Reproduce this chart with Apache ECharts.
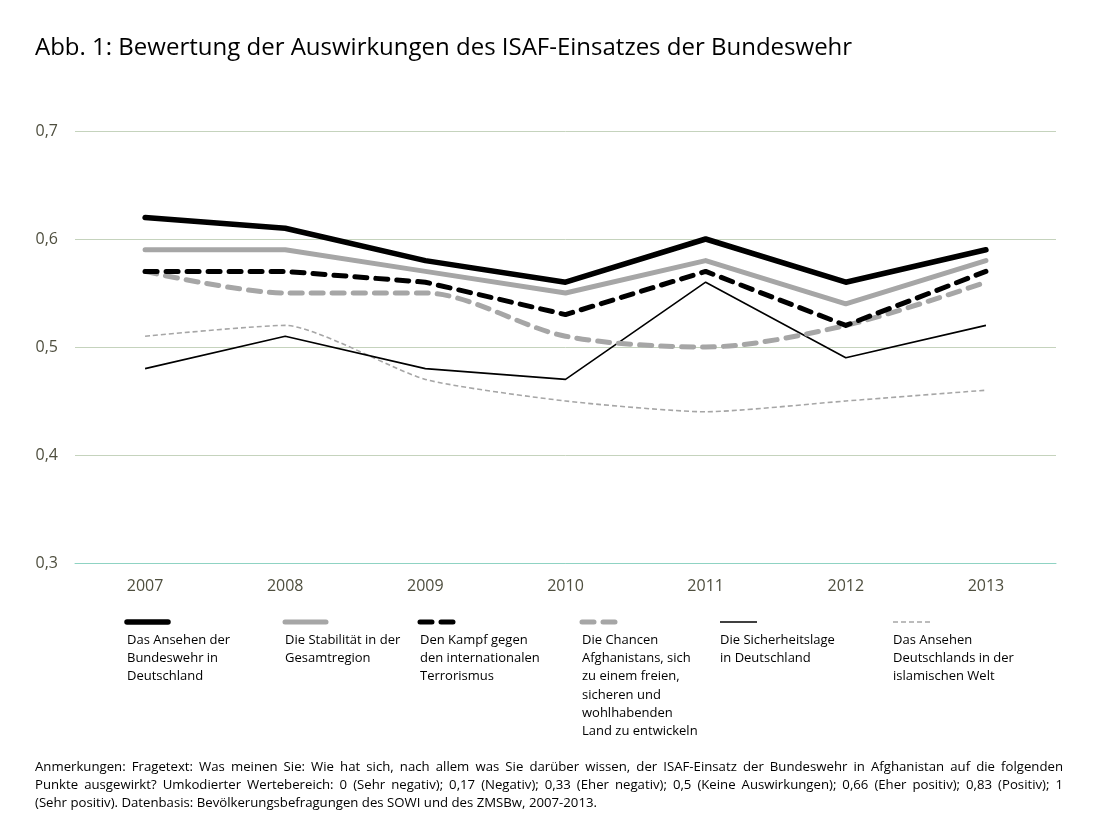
<!DOCTYPE html>
<html><head><meta charset="utf-8">
<script src="https://cdn.jsdelivr.net/npm/echarts@6/dist/echarts.min.js"></script>
<style>html,body{margin:0;padding:0;background:#fff}#c{width:1095px;height:820px}</style>
</head><body><div id="c"></div>
<script>
const years = ['2007','2008','2009','2010','2011','2012','2013'];
const seriesNames = [
  'Das Ansehen der Bundeswehr in Deutschland',
  'Die Stabilität in der Gesamtregion',
  'Den Kampf gegen den internationalen Terrorismus',
  'Die Chancen Afghanistans, sich zu einem freien, sicheren und wohlhabenden Land zu entwickeln',
  'Die Sicherheitslage in Deutschland',
  'Das Ansehen Deutschlands in der islamischen Welt'
];
const legendLines = [
  'Das Ansehen der\nBundeswehr in\nDeutschland',
  'Die Stabilität in der\nGesamtregion',
  'Den Kampf gegen\nden internationalen\nTerrorismus',
  'Die Chancen\nAfghanistans, sich\nzu einem freien,\nsicheren und\nwohlhabenden\nLand zu entwickeln',
  'Die Sicherheitslage\nin Deutschland',
  'Das Ansehen\nDeutschlands in der\nislamischen Welt'
];
const ansehenBw   = [0.62, 0.61, 0.58, 0.56, 0.60, 0.56, 0.59];
const stabilitaet = [0.59, 0.59, 0.57, 0.55, 0.58, 0.54, 0.58];
const terrorismus = [0.57, 0.57, 0.56, 0.53, 0.57, 0.52, 0.57];
const chancen     = [0.57, 0.55, 0.55, 0.51, 0.50, 0.52, 0.56];
const sicherheit  = [0.48, 0.51, 0.48, 0.47, 0.56, 0.49, 0.52];
const ansehenDe   = [0.51, 0.52, 0.47, 0.45, 0.44, 0.45, 0.46];
const yTicks = ['0,3','0,4','0,5','0,6','0,7'];
const title = 'Abb. 1: Bewertung der Auswirkungen des ISAF-Einsatzes der Bundeswehr';
const noteLines = [
  'Anmerkungen: Fragetext: Was meinen Sie: Wie hat sich, nach allem was Sie darüber wissen, der ISAF-Einsatz der Bundeswehr in Afghanistan auf die folgenden',
  'Punkte ausgewirkt? Umkodierter Wertebereich: 0 (Sehr negativ); 0,17 (Negativ); 0,33 (Eher negativ); 0,5 (Keine Auswirkungen); 0,66 (Eher positiv); 0,83 (Positiv); 1',
  '(Sehr positiv). Datenbasis: Bevölkerungsbefragungen des SOWI und des ZMSBw, 2007-2013.'
];

const dataArr = [ansehenBw, stabilitaet, terrorismus, chancen, sicherheit, ansehenDe];
const styles = [
  {color:'#000000', width:5.5, type:'solid', smooth:false},
  {color:'#a6a6a6', width:5, type:'solid', smooth:false},
  {color:'#000000', width:5, type:[12,9], smooth:false},
  {color:'#a6a6a6', width:5, type:[12,9], smooth:0.3},
  {color:'#000000', width:1.6, type:'solid', smooth:false},
  {color:'#a6a6a6', width:1.6, type:[5,3], smooth:0.2}
];
const legendX = [127, 285, 420, 582, 720, 893];
const legendW = [41, 41, 36, 33, 37, 37];

const font = '"Open Sans", "Noto Sans", sans-serif';
const axisColor = '#4f4f3f';

const graphics = [];
graphics.push({type:'text', left:35, top:36, style:{text:title, font:'24px '+font, fill:'#000'}});
seriesNames.forEach((n,i)=>{
  const s = styles[i];
  graphics.push({type:'line', shape:{x1:legendX[i], y1:622, x2:legendX[i]+legendW[i], y2:622},
    style:{stroke:s.color, lineWidth:s.width, lineDash: s.type==='solid'?null:s.type, lineCap: s.width>3?'round':'butt'}});
  graphics.push({type:'text', left:legendX[i], top:631, style:{text:legendLines[i], font:'13px '+font, lineHeight:18.3, fill:'#000'}});
});
// footnote, justified lines 1-2
const noteFont = '13.2px ' + font;
const cv = document.createElement('canvas').getContext('2d');
cv.font = noteFont;
const noteLeft = 35, noteRight = 1063;
noteLines.forEach((t,i)=>{
  const y = 761 + i*18;
  if (i === noteLines.length-1) {
    graphics.push({type:'text', left:noteLeft, top:y, style:{text:t, font:noteFont, fill:'#000'}});
    return;
  }
  const words = t.split(' ');
  const widths = words.map(w=>cv.measureText(w).width);
  const total = widths.reduce((a,b)=>a+b,0);
  const gap = (noteRight-noteLeft-total)/(words.length-1);
  let x = noteLeft;
  words.forEach((w,k)=>{
    graphics.push({type:'text', x:x, y:y, style:{text:w, font:noteFont, fill:'#000', textVerticalAlign:'top'}});
    x += widths[k] + gap;
  });
});

const chart = echarts.init(document.getElementById('c'));
chart.setOption({
  animation:false,
  backgroundColor:'#fff',
  grid:{left:75, right:39, top:131, bottom:257},
  xAxis:{type:'category', data:years, boundaryGap:true,
    axisLine:{show:true, lineStyle:{color:'#8fd3c3', width:1}},
    axisTick:{show:false},
    axisLabel:{color:axisColor, fontSize:16, fontFamily:font, margin:15}},
  yAxis:{type:'value', min:0.3, max:0.7, interval:0.1,
    axisLine:{show:false}, axisTick:{show:false},
    splitLine:{lineStyle:{color:'#c5d3bd', width:1}},
    axisLabel:{color:axisColor, fontSize:16, fontFamily:font, margin:17,
      formatter:(v)=>yTicks[Math.round((v-0.3)*10)]}},
  series: dataArr.map((d,i)=>({
    name:seriesNames[i], type:'line', data:d, symbol:'none', smooth:styles[i].smooth,
    lineStyle:{color:styles[i].color, width:styles[i].width, type:styles[i].type, cap: styles[i].width>3?'round':'butt', join:'round'},
    z: 10-i
  })),
  graphic: graphics
});
</script></body></html>
